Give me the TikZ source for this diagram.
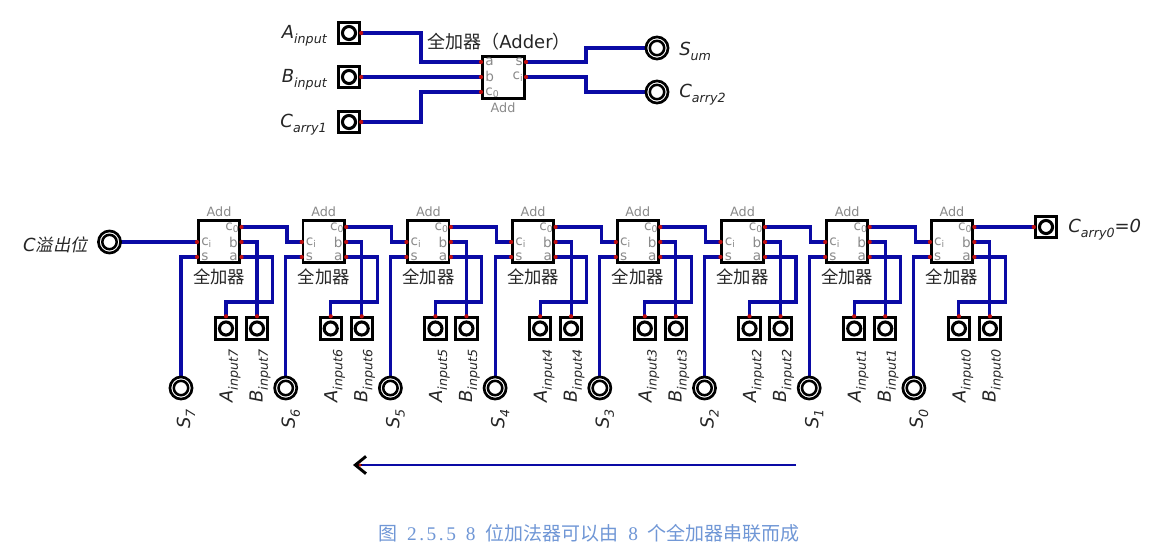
\documentclass[tikz,border=0pt]{standalone}
\usepackage{fontspec}
\usetikzlibrary{arrows.meta,backgrounds}
\setmainfont{DejaVu Sans}
\newfontfamily\cjkfont{Noto Sans CJK SC}
\newfontfamily\cjkslant[FakeSlant=0.2]{Noto Sans CJK SC}
\newfontfamily\latinslant{DejaVu Sans Oblique}
\newfontfamily\capserif{Liberation Serif}
\definecolor{wireblue}{HTML}{0A0AA5}
\definecolor{portred}{HTML}{C01010}
\definecolor{portgrey}{HTML}{8A8A8A}
\definecolor{capblue}{HTML}{7097D6}
\newcommand{\sublbl}[2]{{\fontsize{13.5}{15}\selectfont\latinslant #1\raisebox{-0.28em}{\fontsize{9.5}{11}\selectfont #2}}}
\newcommand{\cjklbl}[1]{{\fontsize{13}{15}\selectfont\cjkfont #1}}
\newcommand{\capch}[1]{\makebox[7.35pt]{#1}}
\newcommand{\capnum}[1]{{\capserif\fontsize{14.5}{17}\selectfont #1}}
\tikzset{
  wire/.style={draw=wireblue,line width=2.3pt},
  addbox/.style={draw=black,line width=2.1pt,minimum width=31pt,minimum height=32pt,inner sep=0pt},
  portdot/.style={fill=portred},
  padsquare/.style={draw=black,fill=white,line width=2.3pt,minimum size=16pt,inner sep=0pt},
  padring/.style={circle,draw=black,fill=white,line width=2.3pt,minimum size=9.8pt,inner sep=0pt},
  padouter/.style={circle,draw=black,fill=white,line width=2pt,minimum size=16.6pt,inner sep=0pt},
  padinner/.style={circle,draw=black,fill=white,line width=1.9pt,minimum size=10.8pt,inner sep=0pt},
  greytext/.style={text=portgrey,font=\fontsize{9.6}{10}\selectfont,inner sep=0pt},
  portlabel/.style={text=portgrey,font=\fontsize{10.2}{10.5}\selectfont,inner sep=0pt},
  plainlabel/.style={inner sep=0pt,text=black!85},
}
\newcommand{\squarepad}[2]{\node[padsquare] (#1) at (#2) {}; \node[padring] (#1r) at (#2) {};}
\newcommand{\circlepad}[2]{\node[padouter] (#1) at (#2) {}; \node[padinner] (#1r) at (#2) {};}
\newcommand{\portat}[1]{\fill[portdot] (#1) circle (1.6pt);}
\newcommand{\csub}[1]{c\raisebox{-0.15em}{\fontsize{7}{7.5}\selectfont #1}}
\begin{document}
\begin{tikzpicture}[x=0.75pt,y=-0.75pt]
\useasboundingbox (0,0) rectangle (1169,547);
\begin{pgfonlayer}{background}\fill[white] (0,0) rectangle (1169,547);\end{pgfonlayer}

% ---------- single full adder ----------
\node[addbox] (top) at (503.5,77.5) {};
\coordinate (topa) at (481,62);
\coordinate (topb) at (481,77);
\coordinate (topc) at (481,92);
\coordinate (tops) at (526,62);
\coordinate (topci) at (526,77);
\node[plainlabel] (toptitle) at (499,42) {{\fontsize{13.5}{15}\selectfont\cjkfont 全加器（}{\fontsize{13.5}{15}\selectfont Adder}{\fontsize{13.5}{15}\selectfont\cjkfont ）}};
\node[greytext] (topadd) at (503,108) {Add};
\node[portlabel,anchor=west] (ta) at (485,62) {a};
\node[portlabel,anchor=west] (tb) at (485,76) {b};
\node[portlabel,anchor=west] (tc) at (485,93) {\csub{0}};
\node[portlabel,anchor=east] (ts) at (523,62) {s};
\node[portlabel,anchor=east] (tci) at (523,77) {\csub{i}};
\squarepad{pa}{349,33}
\squarepad{pb}{349,77}
\squarepad{pc}{349,122}
\circlepad{ps}{657,48}
\circlepad{pco}{657,92}
\node[plainlabel,anchor=east] (la) at (327,36) {\sublbl{A}{input}};
\node[plainlabel,anchor=east] (lb) at (327,80) {\sublbl{B}{input}};
\node[plainlabel,anchor=east] (lc) at (327,125) {\sublbl{C}{arry1}};
\node[plainlabel,anchor=west] (ls) at (679,51) {\sublbl{S}{um}};
\node[plainlabel,anchor=west] (lco) at (679,95) {\sublbl{C}{arry2}};
\begin{pgfonlayer}{background}
\draw[wire] (pa.center) -- (421,33) |- (topa);
\draw[wire] (pb.center) -- (topb);
\draw[wire] (pc.center) -- (421,122) |- (topc);
\draw[wire] (tops) -- (586,62) |- (ps.center);
\draw[wire] (topci) -- (586,77) |- (pco.center);
\end{pgfonlayer}
\portat{topa}\portat{topb}\portat{topc}\portat{tops}\portat{topci}
\portat{pa.east}\portat{pb.east}\portat{pc.east}

% ---------- chain ----------
\foreach \k in {0,...,7}{
  \pgfmathsetmacro{\xz}{197+104.7*(7-\k)}
  \node[addbox] (add\k) at (\xz+22,241.5) {};
  \coordinate (ci\k) at (\xz,242);
  \coordinate (s\k) at (\xz,257);
  \coordinate (co\k) at (\xz+44.5,227);
  \coordinate (b\k) at (\xz+44.5,242);
  \coordinate (a\k) at (\xz+44.5,257);
  \node[greytext] (addt\k) at (\xz+22,212) {Add};
  \node[plainlabel] (name\k) at (\xz+22,277) {\cjklbl{全加器}};
  \node[portlabel,anchor=west] (lci\k) at (\xz+4,243) {\csub{i}};
  \node[portlabel,anchor=west] (ls\k) at (\xz+4,257) {s};
  \node[portlabel,anchor=east] (lco\k) at (\xz+42,228) {\csub{0}};
  \node[portlabel,anchor=east] (lb\k) at (\xz+41,242) {b};
  \node[portlabel,anchor=east] (la\k) at (\xz+41,257) {a};
  \squarepad{ia\k}{\xz+29,328.5}
  \squarepad{ib\k}{\xz+60,328.5}
  \circlepad{os\k}{\xz-16,388}
  \node[plainlabel,rotate=90,anchor=west] (tia\k) at (\xz+33,403) {\sublbl{A}{input\k}};
  \node[plainlabel,rotate=90,anchor=west] (tib\k) at (\xz+63,403) {\sublbl{B}{input\k}};
  \node[plainlabel,rotate=90,anchor=west] (tos\k) at (\xz-11,429) {\sublbl{S}{\k}};
  \begin{pgfonlayer}{background}
  \draw[wire] (s\k) -| (os\k.center);
  \draw[wire] (b\k) -| (ib\k.center);
  \draw[wire] (a\k) -- ++(31,0) -- ++(0,45) -| (ia\k.center);
  \end{pgfonlayer}
  \portat{ci\k}\portat{s\k}\portat{co\k}\portat{b\k}\portat{a\k}
  \portat{ia\k.north}\portat{ib\k.north}
}
\foreach \k/\n in {7/6,6/5,5/4,4/3,3/2,2/1,1/0}{
  \begin{pgfonlayer}{background}
  \draw[wire] (co\k) -- ++(45.5,0) |- (ci\n);
  \end{pgfonlayer}
}
\circlepad{over}{109.5,242}
\squarepad{czero}{1046,227}
\node[plainlabel,anchor=east] (lover) at (88,245) {{\fontsize{13.5}{15}\selectfont\latinslant C}{\fontsize{13}{15}\selectfont\cjkslant 溢出位}};
\node[plainlabel,anchor=west] (lczero) at (1068,230) {\sublbl{C}{arry0}{\fontsize{13.5}{15}\selectfont\latinslant =0}};
\begin{pgfonlayer}{background}
\draw[wire] (over.center) -- (ci7);
\draw[wire] (co0) -- (czero.center);
\end{pgfonlayer}
\portat{czero.west}

% ---------- direction arrow ----------
\coordinate (arrowstart) at (796,465);
\coordinate (arrowend) at (353,465);
\draw[draw=wireblue,line width=2pt] (arrowstart) -- (359,465);
\draw[black,line width=2.2pt,-{Straight Barb[length=8pt,width=13pt]}] (362,465) -- (arrowend);
\fill[portred] (360,465) circle (1.3pt);

% ---------- caption ----------
\node[inner sep=0pt,text=capblue] (caption) at (589,533) {\fontsize{14.25}{17}\selectfont\cjkfont 图\capnum{\capch{}\capch{2}\capch{.}\capch{5}\capch{.}\capch{5}\capch{}\capch{8}\capch{}}位加法器可以由\capnum{\capch{}\capch{8}\capch{}}个全加器串联而成};
\end{tikzpicture}
\end{document}
